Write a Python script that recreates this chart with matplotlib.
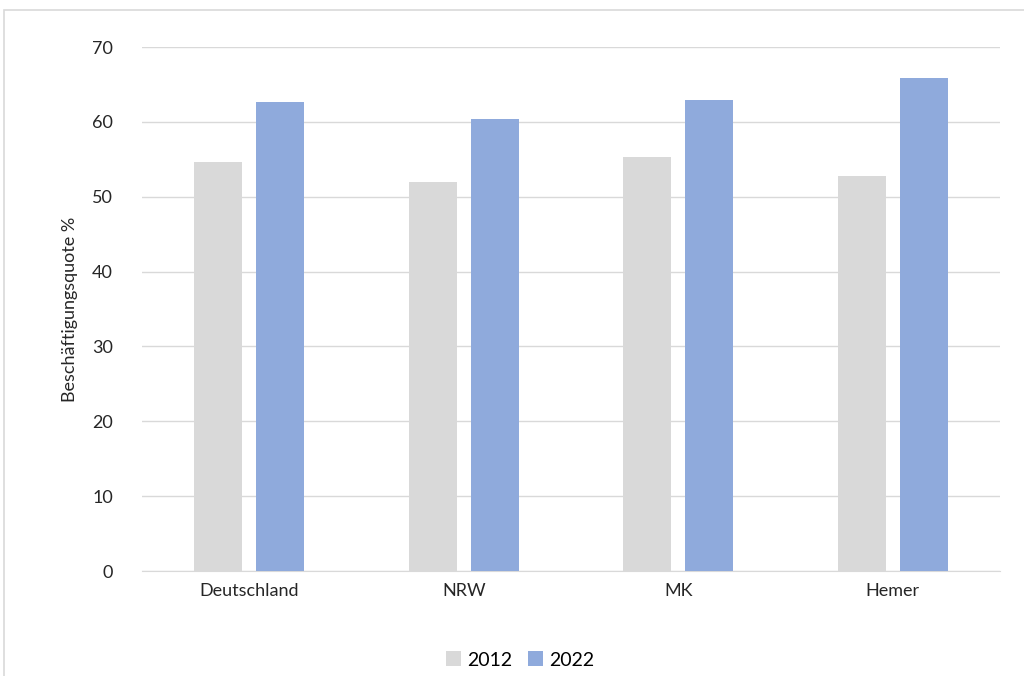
import numpy as np
import matplotlib.pyplot as plt
from matplotlib.patches import Rectangle

regions = ['Deutschland', 'NRW', 'MK', 'Hemer']
years = ['2012', '2022']
quote_2012 = [54.6, 52.0, 55.3, 52.8]
quote_2022 = [62.6, 60.4, 62.9, 65.9]
yticks = [0, 10, 20, 30, 40, 50, 60, 70]

plt.rcParams['font.family'] = ['Lato', 'DejaVu Sans']

fig = plt.figure(figsize=(10.24, 6.76), dpi=100)
ax = fig.add_axes([142 / 1024, 1 - 571 / 676, 858 / 1024, 524 / 676])

# outer chart frame (cut off at right and bottom like the original)
fig.patches.append(Rectangle((4 / 1024, -0.05), 1.1, 1 - 10 / 676 + 0.05,
                             transform=fig.transFigure, fill=False,
                             edgecolor='#d9d9d9', linewidth=1.2))

x = np.arange(len(regions))
w = 0.224
off = 0.145
ax.bar(x - off, quote_2012, w, color='#d9d9d9', label=years[0], zorder=3)
ax.bar(x + off, quote_2022, w, color='#8faadc', label=years[1], zorder=3)

ax.set_xlim(-0.5, len(regions) - 0.5)
ax.set_ylim(0, 70)
ax.set_yticks(yticks)
ax.set_xticks(x)
ax.set_xticklabels(regions)
ax.grid(axis='y', color='#d9d9d9', linewidth=1, zorder=0)
ax.tick_params(axis='both', length=0, labelsize=13, colors='#262626')
ax.tick_params(axis='y', pad=21)
ax.tick_params(axis='x', pad=9)
for s in ['top', 'right', 'left']:
    ax.spines[s].set_visible(False)
ax.spines['bottom'].set_color('#d9d9d9')
ax.set_ylabel('Beschäftigungsquote %', fontsize=13, color='#262626', labelpad=10)

fig.legend(loc='center', bbox_to_anchor=(520 / 1024, 1 - 660 / 676), ncol=2,
           frameon=False, fontsize=14, handlelength=0.8, handleheight=0.8,
           handletextpad=0.3, columnspacing=0.8)

fig.savefig('out.png', dpi=100)
